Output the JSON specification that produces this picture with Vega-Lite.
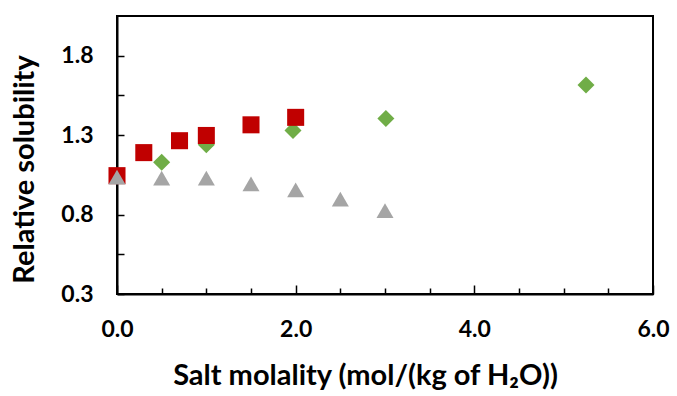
{
  "$schema": "https://vega.github.io/schema/vega-lite/v6.json",
  "width": 536,
  "height": 278,
  "autosize": "none",
  "padding": {"left": 117, "top": 16, "right": 24, "bottom": 102},
  "background": "white",
  "config": {
    "view": {"stroke": "black", "strokeWidth": 2},
    "font": "Lato",
    "axis": {
      "grid": false,
      "domainColor": "black",
      "domainWidth": 2,
      "tickColor": "black",
      "tickWidth": 1.5,
      "labelFont": "Lato",
      "labelFontWeight": "bold",
      "labelFontSize": 23,
      "labelColor": "black",
      "titleFont": "Lato",
      "titleFontWeight": "bold",
      "titleFontSize": 29,
      "titleColor": "black",
      "labelFlush": false,
      "labelOverlap": false
    }
  },
  "data": {
    "values": [
      {"series": "A", "m": 0.5, "s": 1.13},
      {"series": "A", "m": 1.0, "s": 1.24},
      {"series": "A", "m": 1.97, "s": 1.33},
      {"series": "A", "m": 3.01, "s": 1.405},
      {"series": "A", "m": 5.25, "s": 1.615},
      {"series": "B", "m": 0.0, "s": 1.045},
      {"series": "B", "m": 0.3, "s": 1.19},
      {"series": "B", "m": 0.7, "s": 1.265},
      {"series": "B", "m": 1.0, "s": 1.298},
      {"series": "B", "m": 1.5, "s": 1.365},
      {"series": "B", "m": 2.0, "s": 1.412},
      {"series": "C", "m": 0.0, "s": 1.035},
      {"series": "C", "m": 0.5, "s": 1.03},
      {"series": "C", "m": 1.0, "s": 1.03},
      {"series": "C", "m": 1.5, "s": 0.993},
      {"series": "C", "m": 2.0, "s": 0.955},
      {"series": "C", "m": 2.5, "s": 0.897},
      {"series": "C", "m": 3.0, "s": 0.825}
    ]
  },
  "mark": {"type": "point", "filled": true, "opacity": 1, "size": 290},
  "encoding": {
    "x": {
      "field": "m",
      "type": "quantitative",
      "scale": {"domain": [0, 6], "nice": false, "zero": false},
      "axis": {
        "title": "Salt molality (mol/(kg of H₂O))",
        "values": [0, 0.5, 1, 1.5, 2, 2.5, 3, 3.5, 4, 4.5, 5, 5.5, 6],
        "labelExpr": "datum.value % 2 === 0 ? format(datum.value, '.1f') : ''",
        "tickSize": {"condition": {"test": "datum.value % 2 === 0", "value": -9}, "value": -6},
        "labelPadding": 33,
        "titleX": 248,
        "titlePadding": 17
      }
    },
    "y": {
      "field": "s",
      "type": "quantitative",
      "scale": {"domain": [0.3, 2.05], "nice": false, "zero": false},
      "axis": {
        "title": "Relative solubility",
        "values": [0.3, 0.55, 0.8, 1.05, 1.3, 1.55, 1.8],
        "labelExpr": "round(datum.value * 100) % 50 === 30 ? format(datum.value, '.1f') : ''",
        "tickSize": -7,
        "labelPadding": 31,
        "titlePadding": 21,
        "titleY": 153
      }
    },
    "shape": {
      "field": "series",
      "type": "nominal",
      "scale": {"domain": ["A", "B", "C"], "range": ["diamond", "square", "triangle-up"]},
      "legend": null
    },
    "color": {
      "field": "series",
      "type": "nominal",
      "scale": {"domain": ["A", "B", "C"], "range": ["#70AD47", "#C00000", "#A5A5A5"]},
      "legend": null
    }
  }
}
